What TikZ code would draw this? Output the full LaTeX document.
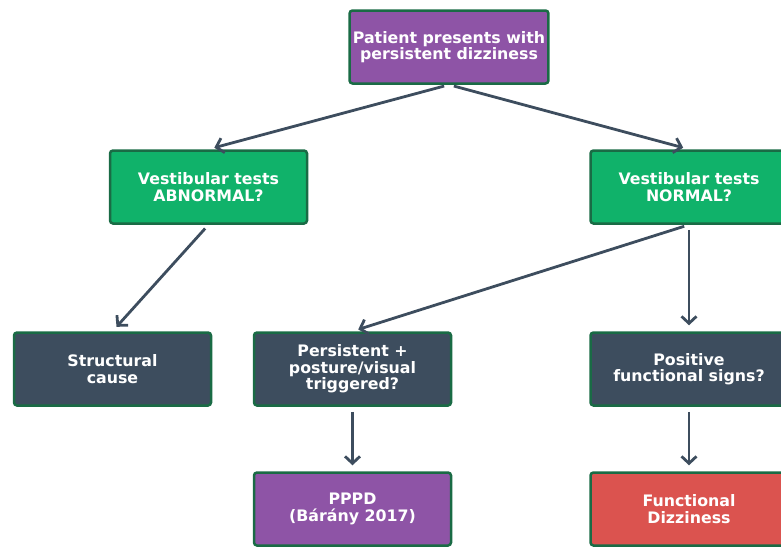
\documentclass[tikz,border=0pt]{standalone}
\usepackage{fontspec}
\setmainfont{DejaVu Sans}
\usepackage{xcolor}
\usetikzlibrary{arrows.meta, positioning}
\definecolor{boxpurple}{HTML}{8E54A6}
\definecolor{boxgreen}{HTML}{10B26A}
\definecolor{boxslate}{HTML}{3D4D5E}
\definecolor{boxred}{HTML}{DB534F}
\definecolor{edgegreen}{HTML}{1A6B45}

\begin{document}
\begin{tikzpicture}[x=1pt, y=-1pt,
  every node/.style={font=\fontsize{15.8}{16.5}\selectfont\bfseries, text=white, align=center},
  flowbox/.style={draw=edgegreen, line width=2.5pt, rectangle, rounded corners=3pt, minimum width=197pt, minimum height=73pt},
  flowarrow/.style={draw=boxslate, line width=2.8pt, -{Straight Barb[length=7pt, width=15pt]}, shorten <=5pt, shorten >=6pt}]
\useasboundingbox (0,0) rectangle (781,547);
\node[flowbox, fill=boxpurple] (start) at (449,47) {Patient presents with\\persistent dizziness};
\node[flowbox, fill=boxgreen] (abn) at (208.5,187) {Vestibular tests\\ABNORMAL?};
\node[flowbox, fill=boxgreen] (norm) at (689,187) {Vestibular tests\\NORMAL?};
\node[flowbox, fill=boxslate] (struct) at (112.5,369) {Structural\\cause};
\node[flowbox, fill=boxslate] (persist) at (352.5,369) {Persistent +\\posture/visual\\triggered?};
\node[flowbox, fill=boxslate] (positive) at (689,369) {Positive\\functional signs?};
\node[flowbox, fill=boxpurple] (pppd) at (352.5,509) {PPPD\\(Bárány 2017)};
\node[flowbox, fill=boxred] (func) at (689,509) {Functional\\Dizziness};
\draw[flowarrow] (start.south) -- (abn.north);
\draw[flowarrow] (start.south) -- (norm.north);
\draw[flowarrow] (abn.south) -- (struct.north);
\draw[flowarrow] (norm.south) -- (persist.north);
\draw[flowarrow] (norm.south) -- (positive.north);
\draw[flowarrow] (persist.south) -- (pppd.north);
\draw[flowarrow] (positive.south) -- (func.north);
\end{tikzpicture}
\end{document}
